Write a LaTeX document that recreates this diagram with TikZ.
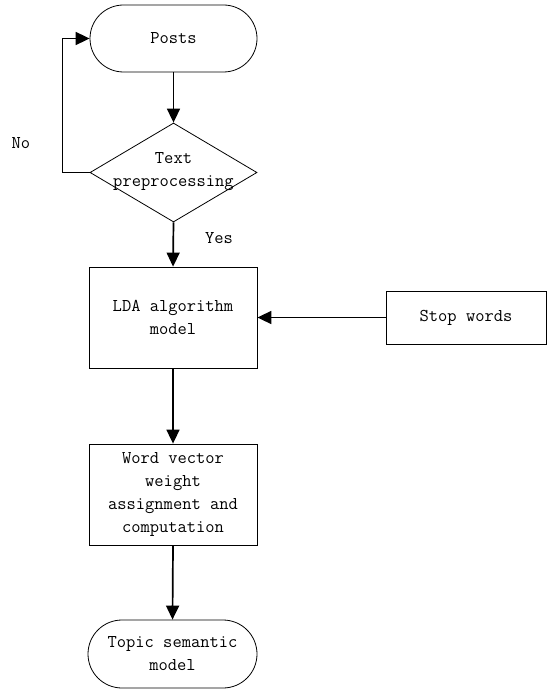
\documentclass[tikz,border=0pt]{standalone}
\usetikzlibrary{arrows.meta,shapes.geometric,shapes.misc}
\begin{document}
\begin{tikzpicture}[x=1pt,y=-1pt,
  label text/.style={font=\ttfamily\fontsize{18}{23}\selectfont,align=center,inner sep=0pt},
  outline/.style={draw,line width=0.8pt,inner sep=0pt},
  term/.style={outline,label text,rounded rectangle},
  proc/.style={outline,label text,rectangle},
  decision/.style={outline,diamond},
  flow/.style={line width=1.7pt,-{Triangle[length=14pt,width=13pt]}}
]
\useasboundingbox (0,0) rectangle (546,690);

% flowchart blocks
\node[term, minimum width=167pt, minimum height=67pt] (posts) at (173.5,38.5) {Posts};
\node[decision, minimum width=167pt, minimum height=99pt] (dec) at (173.5,172.5) {};
\node[label text] (dectext) at (173.5,172) {Text\\preprocessing};
\node[proc, minimum width=168pt, minimum height=101pt] (lda) at (173,317.5) {LDA algorithm\\model};
\node[proc, minimum width=160pt, minimum height=53pt] (stop) at (466,317.5) {Stop words};
\node[proc, minimum width=168pt, minimum height=101pt] (word) at (173,494.5) {Word vector\\weight\\assignment and\\computation};
\node[term, minimum width=169pt, minimum height=68pt] (topic) at (172.5,654) {Topic semantic\\model};

% branch labels
\node[label text] (no) at (21,143) {No};
\node[label text] (yes) at (219,238) {Yes};

% connectors
\draw[flow] (posts.south) -- (dec.north);
\draw[flow] (dec.south) -- (lda.north);
\draw[flow] (dec.west) -- ++(-27,0) |- (posts.west);
\draw[flow] (stop.west) -- (lda.east);
\draw[flow] (lda.south) -- (word.north);
\draw[flow] (word.south) -- (topic.north);
\end{tikzpicture}
\end{document}
